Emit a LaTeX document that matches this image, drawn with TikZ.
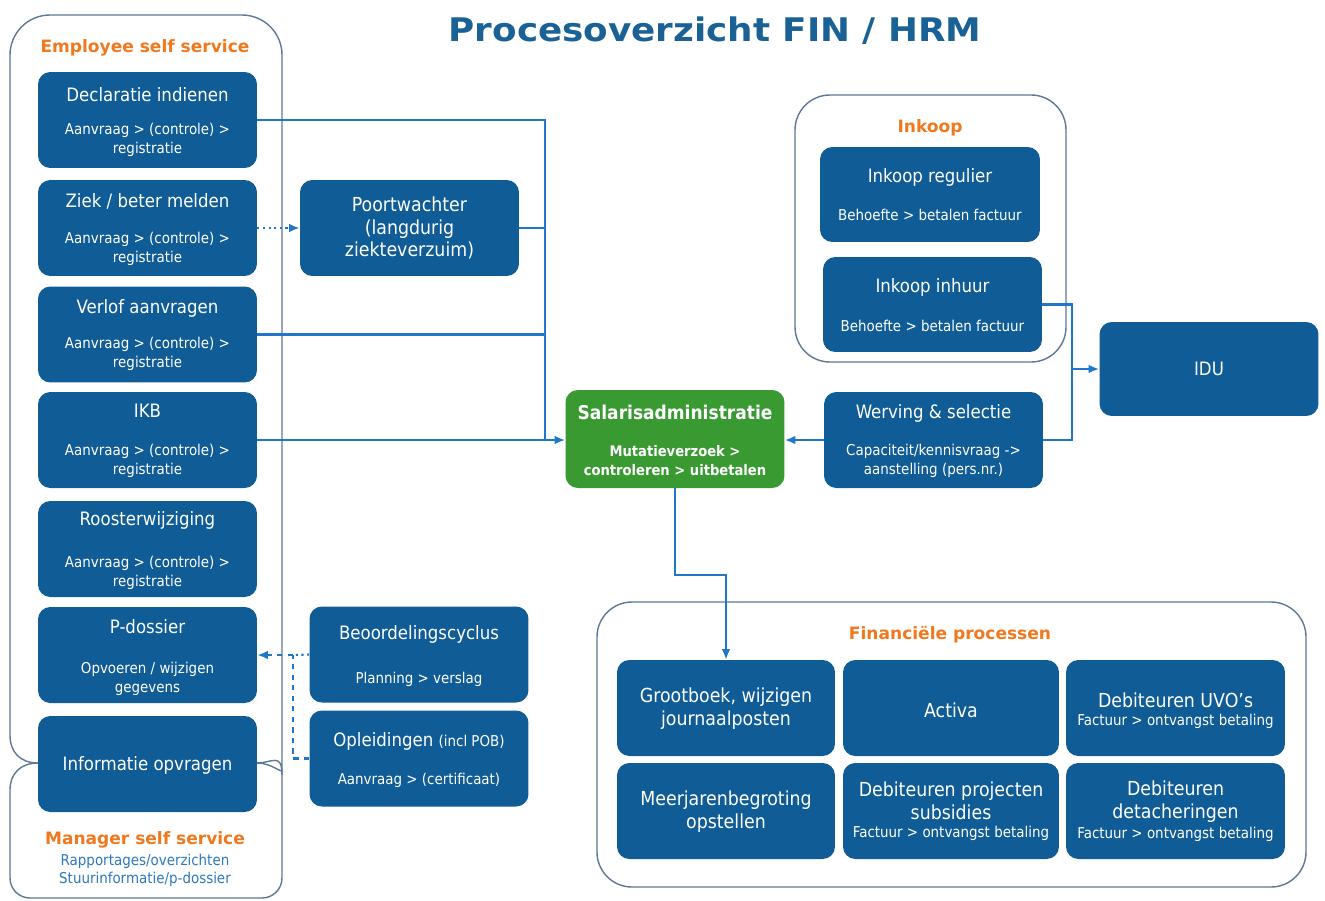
\documentclass[tikz,border=0pt]{standalone}
\usepackage{fontspec}
\setmainfont{DejaVu Sans}
\newfontfamily\cond{DejaVu Sans Condensed}
\usetikzlibrary{arrows.meta}
\definecolor{boxblue}{RGB}{16,92,150}
\definecolor{lineblue}{RGB}{32,118,200}
\definecolor{titleblue}{RGB}{26,98,150}
\definecolor{orangetxt}{RGB}{240,120,30}
\definecolor{salgreen}{RGB}{58,154,50}
\definecolor{outline}{RGB}{95,120,150}
\definecolor{msblue}{RGB}{45,120,190}
\begin{document}
\begin{tikzpicture}[x=0.02cm,y=-0.02cm,
  box/.style={fill=boxblue, rounded corners=7pt, minimum width=4.38cm, minimum height=1.92cm, inner sep=0},
  greenbox/.style={box, fill=salgreen},
  ttl/.style={text=white, font=\cond\fontsize{10.5}{12.5}\selectfont, inner sep=0, align=center},
  bigttl/.style={text=white, font=\cond\fontsize{11}{13}\selectfont, inner sep=0, align=center},
  sb/.style={text=white, font=\cond\fontsize{8.5}{10.8}\selectfont, inner sep=0, align=center},
  grp/.style={text=orangetxt, font=\bfseries\fontsize{9.7}{11}\selectfont, inner sep=0},
  cont/.style={draw=outline, line width=0.8pt},
  conn/.style={draw=lineblue, line width=1.2pt},
  arr/.style={conn, -{Latex[length=6pt,width=5pt]}}
]
\useasboundingbox (0,0) rectangle (1325,900);

% title
\node[text=titleblue, font=\bfseries\fontsize{18.5}{21}\selectfont, inner sep=0] (title) at (715,31) {\scalebox{1.1}[1]{Procesoverzicht FIN / HRM}};

% containers
\draw[cont] (38,763) .. controls (20,763) and (10,752) .. (10,735)
  [rounded corners=0.8cm] -- (10,15) -- (282,15) -- (282,735) [sharp corners]
  .. controls (282,752) and (272,763) .. (257,763);
\draw[cont] (38,763) .. controls (20,763) and (10,774) .. (10,790)
  [rounded corners=0.4cm] -- (10,898) -- (282,898) -- (282,790) [sharp corners]
  .. controls (282,774) and (272,763) .. (257,763);
\draw[cont, rounded corners=0.7cm] (795,95) rectangle (1066,362);
\draw[cont, rounded corners=0.7cm] (597,602) rectangle (1306,887);

\node[grp] (ess) at (145,48) {Employee self service};
\node[grp] (mss) at (145,840) {Manager self service};
\node[text=msblue, font=\cond\fontsize{8.5}{10.3}\selectfont, align=center, inner sep=0] (msssub) at (145,870) {Rapportages/overzichten\\Stuurinformatie/p-dossier};
\node[grp] (ink) at (930,128) {Inkoop};
\node[grp] (fin) at (950,635) {Financiële processen};

% left column
\node[box] (decl) at (147.5,120) {};
\node[ttl] (declT) at (147.5,95) {Declaratie indienen};
\node[sb] (declS) at (147.5,140) {Aanvraag > (controle) >\\registratie};

\node[box] (ziek) at (147.5,228) {};
\node[ttl] (ziekT) at (147.5,201) {Ziek / beter melden};
\node[sb] (ziekS) at (147.5,249) {Aanvraag > (controle) >\\registratie};

\node[box] (verlof) at (147.5,334.5) {};
\node[ttl] (verlofT) at (147.5,308) {Verlof aanvragen};
\node[sb] (verlofS) at (147.5,354) {Aanvraag > (controle) >\\registratie};

\node[box] (ikb) at (147.5,440) {};
\node[ttl] (ikbT) at (147.5,411) {IKB};
\node[sb] (ikbS) at (147.5,461) {Aanvraag > (controle) >\\registratie};

\node[box] (rooster) at (147.5,549) {};
\node[ttl] (roosterT) at (147.5,520) {Roosterwijziging};
\node[sb] (roosterS) at (147.5,573) {Aanvraag > (controle) >\\registratie};

\node[box] (pd) at (147.5,655) {};
\node[ttl] (pdT) at (147.5,627) {P-dossier};
\node[sb] (pdS) at (147.5,679) {Opvoeren / wijzigen\\gegevens};

\node[box] (info) at (147.5,764) {};
\node[ttl] (infoT) at (147.5,765) {Informatie opvragen};

% middle
\node[box] (poort) at (409.5,228) {};
\node[bigttl] (poortT) at (409.5,228) {Poortwachter\\(langdurig\\ziekteverzuim)};

\node[box] (beoord) at (419,654.5) {};
\node[ttl] (beoordT) at (419,634) {Beoordelingscyclus};
\node[sb] (beoordS) at (419,679) {Planning > verslag};

\node[box] (opl) at (419,758.5) {};
\node[ttl] (oplT) at (419,741) {Opleidingen {\fontsize{8.5}{10}\selectfont (incl POB)}};
\node[sb] (oplS) at (419,780) {Aanvraag > (certificaat)};

\node[greenbox, minimum height=1.96cm] (sal) at (675,439) {};
\node[text=white, font=\cond\bfseries\fontsize{10.8}{13}\selectfont, inner sep=0] (salT) at (675,412) {Salarisadministratie};
\node[text=white, font=\cond\bfseries\fontsize{8.3}{10.8}\selectfont, align=center, inner sep=0] (salS) at (675,461) {Mutatieverzoek >\\controleren > uitbetalen};

% right
\node[box] (werv) at (933.5,440) {};
\node[ttl] (wervT) at (933.5,413) {Werving \& selectie};
\node[sb] (wervS) at (933.5,461) {Capaciteit/kennisvraag ->\\aanstelling (pers.nr.)};

\node[box, minimum width=4.4cm, minimum height=1.9cm] (inreg) at (930,194.5) {};
\node[ttl] (inregT) at (930,177) {Inkoop regulier};
\node[sb] (inregS) at (930,215) {Behoefte > betalen factuur};

\node[box, minimum height=1.9cm] (inhuur) at (932.5,304.5) {};
\node[ttl] (inhuurT) at (932.5,287) {Inkoop inhuur};
\node[sb] (inhuurS) at (932.5,326) {Behoefte > betalen factuur};

\node[box, minimum height=1.88cm] (idu) at (1209,369) {};
\node[ttl] (iduT) at (1209,369) {IDU};

% financial grid
\node[box, minimum width=4.36cm] (groot) at (726,708) {};
\node[bigttl] (grootT) at (726,709) {Grootboek, wijzigen\\journaalposten};
\node[box, minimum width=4.32cm] (activa) at (951,708) {};
\node[bigttl] (activaT) at (951,710) {Activa};
\node[box, minimum width=4.38cm] (uvo) at (1175.5,708) {};
\node[bigttl] (uvoT) at (1175.5,700) {Debiteuren UVO’s};
\node[sb] (uvoS) at (1175.5,721) {Factuur > ontvangst betaling};

\node[box, minimum width=4.36cm] (meer) at (726,811) {};
\node[bigttl] (meerT) at (726,812) {Meerjarenbegroting\\opstellen};
\node[box, minimum width=4.32cm] (proj) at (951,811) {};
\node[bigttl] (projT) at (951,801) {Debiteuren projecten\\subsidies};
\node[sb] (projS) at (951,833) {Factuur > ontvangst betaling};
\node[box, minimum width=4.38cm] (det) at (1175.5,811) {};
\node[bigttl] (detT) at (1175.5,802) {Debiteuren\\detacheringen};
\node[sb] (detS) at (1175.5,834) {Factuur > ontvangst betaling};

% connectors
\coordinate (jl) at (545,440);
\coordinate (jr) at (1072,369);
\coordinate (jb) at (293,655);

\draw[conn] (decl.east) -| (jl);
\draw[conn] (poort.east) -- (poort.east -| jl);
\draw[conn] (verlof.east) -- (verlof.east -| jl);
\draw[arr] (ikb.east) -- (sal.west |- ikb.east);
\draw[arr, dotted] (ziek.east) -- (poort.west);
\draw[arr] (werv.west) -- (sal.east |- werv.west);
\draw[conn] (inhuur.east) -| (jr);
\draw[conn] (werv.east) -| (jr);
\draw[arr] (jr) -- (idu.west);
\draw[arr] (sal.south) -- (sal.south |- 0,575) -| (groot.north);
\draw[conn, dotted] (beoord.west) -- (jb);
\draw[arr, dashed] (jb) -- (pd.east);
\draw[conn, dashed] (opl.west) -| (jb);
\end{tikzpicture}
\end{document}
